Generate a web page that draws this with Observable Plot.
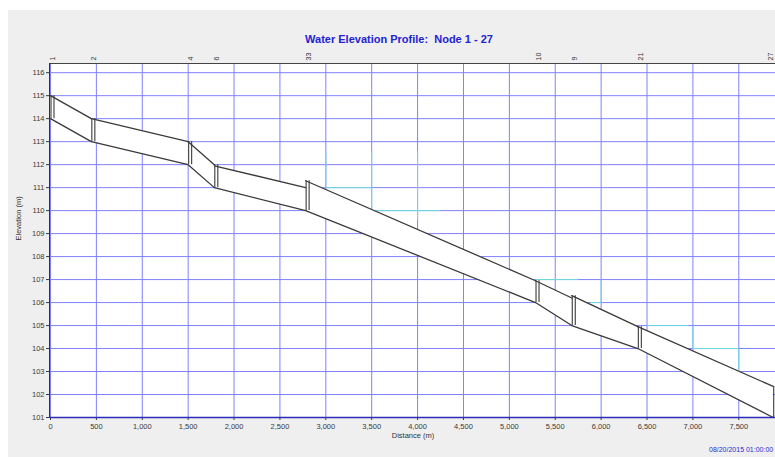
<!DOCTYPE html>
<html>
<head>
<meta charset="utf-8">
<script src="https://cdn.jsdelivr.net/npm/d3@7"></script>
<script src="https://cdn.jsdelivr.net/npm/@observablehq/plot@0.6"></script>
<style>
  html, body { margin: 0; padding: 0; background: #ffffff; }
  #wrap { position: relative; width: 775px; height: 457px; overflow: hidden; font-family: "Liberation Sans", Arial, sans-serif; }
  #bg { position: absolute; left: 8px; top: 10px; width: 767px; height: 447px; background: #efefef; }
  #chart { position: absolute; left: 0; top: 0; }
  .title { position: absolute; left: 0; width: 798px; top: 33px; text-align: center; font-weight: bold; font-size: 11px; color: #2323d2; white-space: pre; }
  .stamp { position: absolute; left: 709px; top: 446px; font-size: 7px; color: #2a2ad0; white-space: nowrap; }
</style>
</head>
<body>
<div id="wrap">
  <div id="bg"></div>
  <div id="chart"></div>
  <div class="title">Water Elevation Profile:  Node 1 - 27</div>
  <div class="stamp">08/20/2015 01:00:00</div>
</div>
<script>
// ---- data ----
const nodeLabels = ["1", "2", "4", "6", "33", "10", "9", "21", "27"];
const nodeDist   = [0, 445, 1500, 1785, 2780, 5285, 5680, 6400, 7875];
const invertElev = [114, 113, 112, 111, 110, 106, 105, 104, 101];
const crownIn    = [null, 114, 113, 112, 111.0, 106.95, 106.2, 104.95, 102.35];
const crownOut   = [115, 114, 113, 111.95, 111.3, 106.95, 106.3, 104.95, null];
const xTicks = [0, 500, 1000, 1500, 2000, 2500, 3000, 3500, 4000, 4500, 5000, 5500, 6000, 6500, 7000, 7500];
const yTicks = [101, 102, 103, 104, 105, 106, 107, 108, 109, 110, 111, 112, 113, 114, 115, 116];
// light cyan grid segments seen above the profile [x1, y1, x2, y2]
const cyanSegs = [
  [3000, 111, 3000, 112.6],
  [3000, 111, 3500, 111],
  [3500, 110, 3500, 112.6],
  [3500, 110, 4250, 110],
  [4000, 109.6, 4000, 112.6],
  [5285, 107, 5750, 107],
  [6000, 106, 6000, 107],
  [5880, 106, 6000, 106],
  [6500, 105, 6950, 105],
  [7000, 104, 7000, 105],
  [7000, 104, 7500, 104],
  [7500, 102.6, 7500, 104]
];

// ---- tables built from the arrays ----
const nodes = nodeLabels.map((name, i) => ({
  name, dist: nodeDist[i], inv: invertElev[i],
  top: Math.max(crownIn[i] ?? -Infinity, crownOut[i] ?? -Infinity)
}));
const links = [];
for (let i = 0; i < nodeDist.length - 1; i++) {
  links.push({link: i, x: nodeDist[i], lo: invertElev[i], hi: crownOut[i]});
  links.push({link: i, x: nodeDist[i + 1], lo: invertElev[i + 1], hi: crownIn[i + 1]});
}
const cyan = cyanSegs.map(([x1, y1, x2, y2]) => ({x1, y1, x2, y2}));
const innerNodes = nodes.slice(0, -1);
const lastNode = nodes.slice(-1);

const ink = "#3a3a3a";
const gridColor = "#8080ff";

const plot = Plot.plot({
  width: 775,
  height: 457,
  marginLeft: 50,
  marginRight: 0,
  marginTop: 63,
  marginBottom: 40,
  style: {background: "transparent", fontFamily: "'Liberation Sans', Arial, sans-serif", fontSize: "7.5px", color: "#3a3a3a"},
  x: {domain: [0, 7900], ticks: xTicks, tickFormat: d3.format(","), tickSize: 3, tickPadding: 3, label: null},
  y: {domain: [101, 116.4], ticks: yTicks, tickFormat: d3.format("d"), tickSize: 4, tickPadding: 2, label: null},
  marks: [
    Plot.frame({fill: "white", stroke: "none"}),
    Plot.ruleX(xTicks, {stroke: gridColor, strokeWidth: 1}),
    Plot.ruleY(yTicks, {stroke: gridColor, strokeWidth: 1}),
    Plot.link(cyan, {x1: "x1", y1: "y1", x2: "x2", y2: "y2", stroke: "#6fdcdc", strokeWidth: 1}),
    Plot.areaY(links, {x: "x", y1: "lo", y2: "hi", z: "link", fill: "white", curve: "linear"}),
    Plot.line(links, {x: "x", y: "hi", z: "link", stroke: ink, strokeWidth: 1.3}),
    Plot.line(nodes, {x: "dist", y: "inv", stroke: ink, strokeWidth: 1.3}),
    Plot.ruleX(nodes, {x: "dist", y1: "inv", y2: "top", stroke: ink, strokeWidth: 1.1, dx: 0.5}),
    Plot.ruleX(nodes, {x: "dist", y1: "inv", y2: "top", stroke: ink, strokeWidth: 1.1, dx: 3.5}),
    Plot.ruleY([116.4], {stroke: "#444", strokeWidth: 1.2}),
    Plot.ruleY([101], {stroke: "#2b2bb8", strokeWidth: 1.5}),
    Plot.ruleX([0], {stroke: "#333", strokeWidth: 1, dx: -1}),
    Plot.text(innerNodes, {x: "dist", text: "name", frameAnchor: "top", dy: -3, rotate: -90, textAnchor: "start", fill: "#333", fontSize: 7}),
    Plot.text(lastNode, {x: "dist", text: "name", frameAnchor: "top", dy: -3, dx: -5, rotate: -90, textAnchor: "start", fill: "#333", fontSize: 7}),
    Plot.text(["Distance (m)"], {frameAnchor: "bottom", dy: 20, fill: "#333", fontSize: 7.5}),
    Plot.text(["Elevation (m)"], {frameAnchor: "left", dx: -32, rotate: -90, fill: "#333", fontSize: 7.5})
  ]
});
document.getElementById("chart").appendChild(plot);
</script>
</body>
</html>
